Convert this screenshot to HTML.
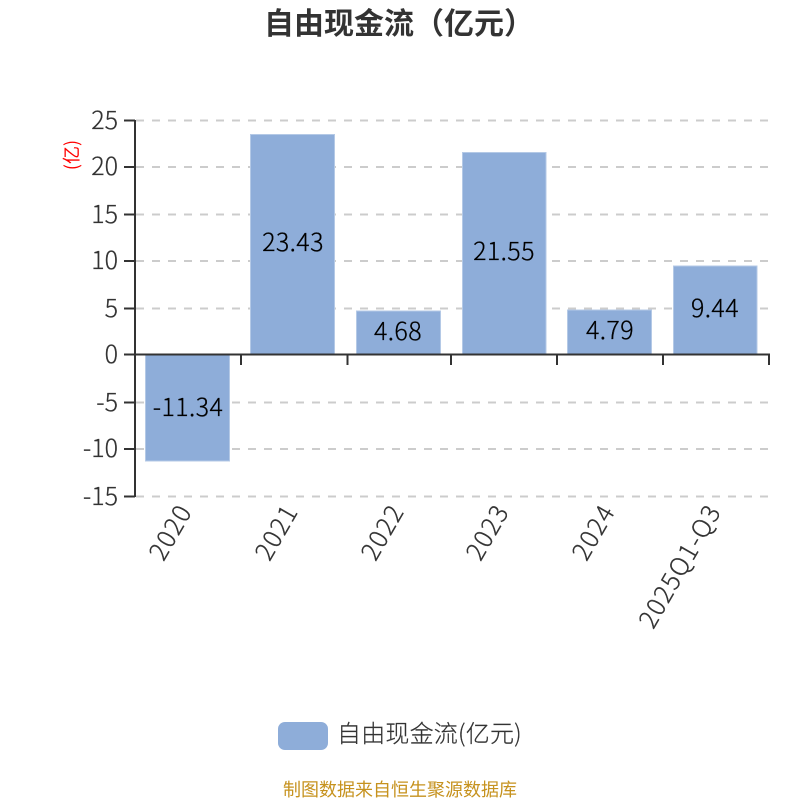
<!DOCTYPE html>
<html lang="zh">
<head>
<meta charset="utf-8">
<style>
html,body{margin:0;padding:0;background:#fff;width:800px;height:800px;overflow:hidden}
svg{display:block}
text{font-family:"Noto Sans CJK SC","WenQuanYi Zen Hei","Liberation Sans",sans-serif}
</style>
</head>
<body>
<svg width="800" height="800" viewBox="0 0 800 800" xmlns="http://www.w3.org/2000/svg">
<rect width="800" height="800" fill="#fff"/>
<text x="399" y="34" font-size="30" font-weight="700" fill="#333" text-anchor="middle">自由现金流（亿元）</text>

<g stroke="#ccc" stroke-width="2" stroke-dasharray="8 8" fill="none">
<path d="M136 120.500H768"/>
<path d="M136 167H768"/>
<path d="M136 214.500H768"/>
<path d="M136 261H768"/>
<path d="M136 308.500H768"/>
<path d="M136 402.500H768"/>
<path d="M136 449H768"/>
<path d="M136 496.500H768"/>
</g>

<g fill="#8eadd9" stroke="#b4c9e6" stroke-width="1">
<rect x="145.500" y="355" width="84" height="106"/>
<rect x="250.500" y="134.500" width="84" height="220"/>
<rect x="356.500" y="311" width="84" height="43.500"/>
<rect x="462.500" y="152.500" width="83.500" height="202"/>
<rect x="567.500" y="310" width="84" height="44.500"/>
<rect x="673.500" y="266" width="83.500" height="88.500"/>
</g>

<g stroke="#333" stroke-width="2" fill="none">
<path d="M135 120V497"/>
<path d="M124 120.500H135M124 167H135M124 214.500H135M124 261H135M124 308.500H135M124 354.500H135M124 402.500H135M124 449H135M124 496.500H135"/>
<path d="M135 354.500H770"/>
<path d="M241 355V365M347.500 355V365M451 355V365M557 355V365M663 355V365M769 355V365"/>
</g>

<g font-size="25" font-weight="300" fill="#333" stroke="#333" stroke-width="0.25" text-anchor="end">
<text x="118" y="129">25</text>
<text x="118" y="175">20</text>
<text x="118" y="223">15</text>
<text x="118" y="269">10</text>
<text x="118" y="317">5</text>
<text x="118" y="363">0</text>
<text x="118" y="411">-5</text>
<text x="118" y="457">-10</text>
<text x="118" y="505">-15</text>
</g>

<text transform="translate(78 155) rotate(-90)" font-size="18" fill="#f00" text-anchor="middle">(亿)</text>

<g font-size="25" font-weight="300" letter-spacing="0.4" fill="#000" stroke="#000" stroke-width="0.25" text-anchor="middle">
<text x="188" y="416">-11.34</text>
<text x="293" y="251">23.43</text>
<text x="398" y="340">4.68</text>
<text x="504" y="260">21.55</text>
<text x="610" y="339">4.79</text>
<text x="715" y="317">9.44</text>
</g>

<g font-size="25" font-weight="300" letter-spacing="1.4" fill="#333" stroke="#333" stroke-width="0.25" text-anchor="end">
<text transform="translate(193 511) rotate(-60)">2020</text>
<text transform="translate(299 511) rotate(-60)">2021</text>
<text transform="translate(405 511) rotate(-60)">2022</text>
<text transform="translate(510 511) rotate(-60)">2023</text>
<text transform="translate(616 511) rotate(-60)">2024</text>
<text transform="translate(722 511) rotate(-60)">2025Q1-Q3</text>
</g>

<rect x="278" y="722" width="50" height="28" rx="7" ry="7" fill="#8eadd9"/>
<text x="337" y="742" font-size="24" font-weight="300" letter-spacing="0.2" fill="#333" stroke="#333" stroke-width="0.2">自由现金流(亿元)</text>
<text x="400" y="796" font-size="18" fill="#c6921e" text-anchor="middle">制图数据来自恒生聚源数据库</text>
</svg>
</body>
</html>
